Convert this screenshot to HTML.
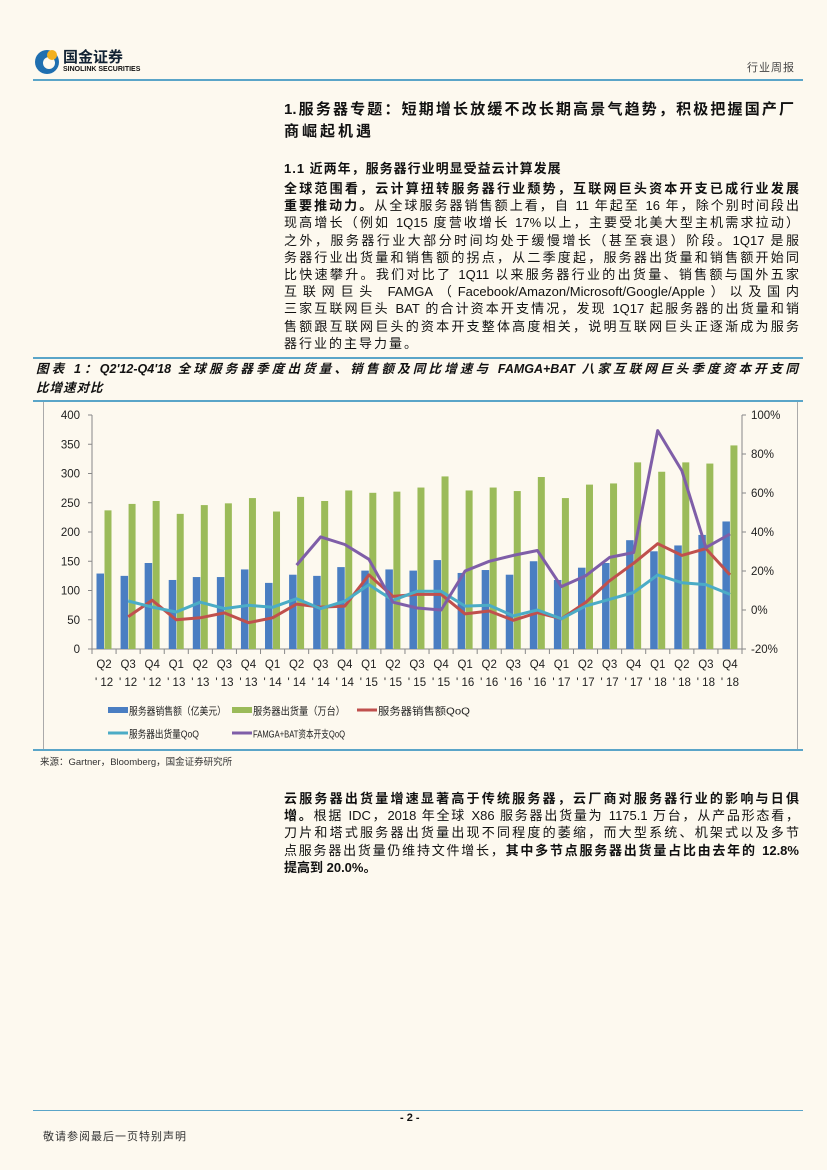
<!DOCTYPE html>
<html><head><meta charset="utf-8">
<style>
body{margin:0;background:#fdf9ef;}
#page{position:relative;width:827px;height:1170px;background:#fdf9ef;overflow:hidden;font-family:"Liberation Sans","Noto Sans CJK SC",sans-serif;color:#111;}
.abs{position:absolute;}
.blk{font-size:13px;line-height:17.2px;}
.ln{white-space:nowrap;text-align:justify;text-align-last:justify;}
.last{text-align-last:left;}
b{font-weight:bold;}
</style></head><body>
<div id="page">
 <div class="abs" style="left:33px;top:46px;width:120px;height:32px;">
  <svg width="30" height="30" style="position:absolute;left:0;top:0"><circle cx="14" cy="16" r="12" fill="#1f6fb0"/><circle cx="16" cy="17" r="6" fill="#fdf9ef"/><circle cx="19" cy="9" r="5" fill="#f2b01e"/></svg>
  <div class="abs" style="left:30px;top:0;font-size:15px;font-weight:bold;color:#123">国金证券</div>
  <div class="abs" style="left:30px;top:20px;font-size:7px;font-weight:bold;white-space:nowrap">SINOLINK SECURITIES</div>
 </div>
 <div class="abs" style="left:747px;top:59px;font-size:11px;color:#444;letter-spacing:1px">行业周报</div>
 <div class="abs" style="left:33px;top:79px;width:770px;height:2px;background:#5aa5c8"></div>

 <div class="abs" style="left:284px;top:99px;width:510px;font-size:15px;font-weight:bold;line-height:22px">
  <div class="ln">1.服务器专题：短期增长放缓不改长期高景气趋势，积极把握国产厂</div>
  <div class="ln last" style="letter-spacing:3px">商崛起机遇</div>
 </div>
 <div class="abs" style="left:284px;top:158px;font-size:13px;font-weight:bold;letter-spacing:1px">1.1 近两年，服务器行业明显受益云计算发展</div>
 <div class="abs blk" style="left:284px;top:180px;width:515px;">
  <div class="ln"><b>全球范围看，云计算扭转服务器行业颓势，互联网巨头资本开支已成行业发展</b></div>
  <div class="ln"><b>重要推动力。</b>从全球服务器销售额上看，自 11 年起至 16 年，除个别时间段出</div>
  <div class="ln">现高增长（例如 1Q15 度营收增长 17%以上，主要受北美大型主机需求拉动）</div>
  <div class="ln">之外，服务器行业大部分时间均处于缓慢增长（甚至衰退）阶段。1Q17 是服</div>
  <div class="ln">务器行业出货量和销售额的拐点，从二季度起，服务器出货量和销售额开始同</div>
  <div class="ln">比快速攀升。我们对比了 1Q11 以来服务器行业的出货量、销售额与国外五家</div>
  <div class="ln">互联网巨头 FAMGA（Facebook/Amazon/Microsoft/Google/Apple）以及国内</div>
  <div class="ln">三家互联网巨头 BAT 的合计资本开支情况，发现 1Q17 起服务器的出货量和销</div>
  <div class="ln">售额跟互联网巨头的资本开支整体高度相关，说明互联网巨头正逐渐成为服务</div>
  <div class="ln last" style="letter-spacing:2px">器行业的主导力量。</div>
 </div>

 <div class="abs" style="left:33px;top:357px;width:770px;height:2px;background:#5aa5c8"></div>
 <div class="abs" style="left:36px;top:360px;width:762px;font-size:12.5px;font-weight:bold;font-style:italic;line-height:19px">
  <div class="ln">图表 1：Q2'12-Q4'18 全球服务器季度出货量、销售额及同比增速与 FAMGA+BAT 八家互联网巨头季度资本开支同</div>
  <div class="ln last" style="letter-spacing:1px">比增速对比</div>
 </div>
 <div class="abs" style="left:33px;top:400px;width:770px;height:2px;background:#5aa5c8"></div>
 <div class="abs" style="left:43px;top:402px;width:753px;height:347px;border-left:1px solid #aaa;border-right:1px solid #aaa;"></div>
 <div class="abs" style="left:33px;top:749px;width:770px;height:2px;background:#5aa5c8"></div>

 <svg class="abs" id="chart" style="left:0;top:0" width="827" height="760"></svg>

 <div class="abs" style="left:40px;top:754px;font-size:9.5px;color:#333">来源：Gartner，Bloomberg，国金证券研究所</div>

 <div class="abs blk" style="left:284px;top:790px;width:515px;">
  <div class="ln"><b>云服务器出货量增速显著高于传统服务器，云厂商对服务器行业的影响与日俱</b></div>
  <div class="ln"><b>增。</b>根据 IDC，2018 年全球 X86 服务器出货量为 1175.1 万台，从产品形态看，</div>
  <div class="ln">刀片和塔式服务器出货量出现不同程度的萎缩，而大型系统、机架式以及多节</div>
  <div class="ln">点服务器出货量仍维持文件增长，<b>其中多节点服务器出货量占比由去年的 12.8%</b></div>
  <div class="ln last"><b>提高到 20.0%。</b></div>
 </div>

 <div class="abs" style="left:33px;top:1110px;width:770px;height:1px;background:#5aa5c8"></div>
 <div class="abs" style="left:400px;top:1112px;font-size:11px;font-weight:bold">- 2 -</div>
 <div class="abs" style="left:43px;top:1128px;font-size:11px;color:#333;letter-spacing:1px">敬请参阅最后一页特别声明</div>
</div>
<script>
const quarters=["Q2","Q3","Q4","Q1","Q2","Q3","Q4","Q1","Q2","Q3","Q4","Q1","Q2","Q3","Q4","Q1","Q2","Q3","Q4","Q1","Q2","Q3","Q4","Q1","Q2","Q3","Q4"];
const years=["12","12","12","13","13","13","13","14","14","14","14","15","15","15","15","16","16","16","16","17","17","17","17","18","18","18","18"];
const salesValues=[129,125,147,118,123,123,136,113,127,125,140,134,136,134,152,130,135,127,150,118,139,147,186,167,177,195,218];
const shipmentValues=[237,248,253,231,246,249,258,235,260,253,271,267,269,276,295,271,276,270,294,258,281,283,319,303,319,317,348];
const salesQoQ=[null,-3.5,5,-5,-4,-1.5,-6.5,-4,3,1.5,2,18,7,8,8,-2,-0.5,-5.3,-1.4,-4.5,3.8,15,24,34,28,31.5,18];
const shipQoQ=[null,4.6,1.5,-1,4,0.7,2.4,1.4,5.8,0.7,4.5,13,5,9.6,9.6,2,2.4,-3,0,-4.5,2,5.5,9,18,14,13,8];
const capexQoQ=[null,null,null,null,null,null,null,null,23,37.5,33.6,26,4,1,0,20,25,28,30.5,12,17.5,27,29.5,92,71.5,32,39];
const leftTicks=[0,50,100,150,200,250,300,350,400];
const rightTicks=[-20,0,20,40,60,80,100];

const svg=document.getElementById('chart');
const NS='http://www.w3.org/2000/svg';
const X0=92,X1=742,Y0=649,Y1=415;
const n=quarters.length,cw=(X1-X0)/n;
function yL(v){return Y0-(v/400)*(Y0-Y1);}
function yR(v){return Y0-((v+20)/120)*(Y0-Y1);}
function xc(i){return X0+cw*(i+0.5);}
function mk(tag,attrs,txt){const e=document.createElementNS(NS,tag);for(const k in attrs)e.setAttribute(k,attrs[k]);if(txt!==undefined)e.textContent=txt;svg.appendChild(e);return e;}
const font='"Liberation Sans","Noto Sans CJK SC",sans-serif';

let e=mk('line',{x1:X0,y1:Y1,x2:X0,y2:Y0,stroke:'#888'});


e=mk('line',{x1:X1,y1:Y1,x2:X1,y2:Y0,stroke:'#888'});


e=mk('line',{x1:X0,y1:Y0,x2:X1,y2:Y0,stroke:'#888'});


leftTicks.forEach(v=>{
  mk('line',{x1:X0-4,y1:yL(v),x2:X0,y2:yL(v),stroke:'#888'});
  const t=mk('text',{x:X0-12,y:yL(v)+4,'text-anchor':'end','font-size':11.5,'font-family':font,fill:'#222'},v);
  
  
});
rightTicks.forEach(v=>{
  mk('line',{x1:X1,y1:yR(v),x2:X1+4,y2:yR(v),stroke:'#888'});
  const t=mk('text',{x:X1+9,y:yR(v)+4,'font-size':11.5,'font-family':font,fill:'#222'},v+'%');
  
  
});
for(let i=0;i<=n;i++)mk('line',{x1:X0+cw*i,y1:Y0,x2:X0+cw*i,y2:Y0+5,stroke:'#888'});
quarters.forEach((q,i)=>{
  let t=mk('text',{x:xc(i),y:668,'text-anchor':'middle','font-size':11.5,'font-family':font,fill:'#222'},q);
  
  
  t=mk('text',{x:xc(i),y:686,'text-anchor':'middle','font-size':11.5,'font-family':font,fill:'#222'},"' "+years[i]);
  
  
});
salesValues.forEach((v,i)=>{
  const r=mk('rect',{x:X0+cw*i+4.5,y:yL(v),width:7.5,height:Y0-yL(v),fill:'#4a7ec2'});
  
  
});
shipmentValues.forEach((v,i)=>{
  const r=mk('rect',{x:X0+cw*i+12.5,y:yL(v),width:7,height:Y0-yL(v),fill:'#9bbb59'});
  
  
});
function line(arr,color,name){
  let d='';let started=false;
  arr.forEach((v,i)=>{if(v===null)return;d+=(started?'L':'M')+xc(i).toFixed(1)+','+yR(v).toFixed(1);started=true;});
  const p=mk('path',{d:d,fill:'none',stroke:color,'stroke-width':3,'stroke-linejoin':'round'});
  
  
}
line(salesQoQ,'#c0504d','sales-qoq-line');
line(shipQoQ,'#4bacc6','shipment-qoq-line');
line(capexQoQ,'#7f5ea8','capex-qoq-line');
const legend=[
 {x:108,y:710,c:'#4a7ec2',h:6,t:'服务器销售额（亿美元）',w:97,nm:'legend-sales'},
 {x:232,y:710,c:'#9bbb59',h:6,t:'服务器出货量（万台）',w:92,nm:'legend-shipments'},
 {x:357,y:710,c:'#c0504d',h:3,t:'服务器销售额QoQ',w:92,nm:'legend-sales-qoq'},
 {x:108,y:733,c:'#4bacc6',h:3,t:'服务器出货量QoQ',w:70,nm:'legend-shipment-qoq'},
 {x:232,y:733,c:'#7f5ea8',h:3,t:'FAMGA+BAT资本开支QoQ',w:92,nm:'legend-capex-qoq'}];
legend.forEach(l=>{
  const g=document.createElementNS(NS,'g');
  
  
  svg.appendChild(g);
  const r=document.createElementNS(NS,'rect');
  r.setAttribute('x',l.x);r.setAttribute('y',l.y-l.h/2);r.setAttribute('width',20);r.setAttribute('height',l.h);r.setAttribute('fill',l.c);
  g.appendChild(r);
  const t=document.createElementNS(NS,'text');
  t.setAttribute('x',l.x+21);t.setAttribute('y',l.y+4.5);t.setAttribute('font-size',10.5);t.setAttribute('font-family',font);t.setAttribute('fill','#222');
  t.setAttribute('textLength',l.w);t.setAttribute('lengthAdjust','spacingAndGlyphs');
  t.textContent=l.t;g.appendChild(t);
});
</script>
</body></html>
